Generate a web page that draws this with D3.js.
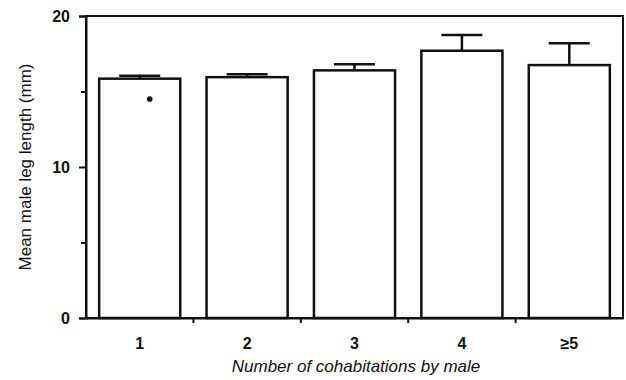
<!DOCTYPE html>
<html>
<head>
<meta charset="utf-8">
<script src="https://cdn.jsdelivr.net/npm/d3@7"></script>
<style>
  body { margin: 0; background: #fff; }
  svg { display: block; font-family: "Liberation Sans", Arial, sans-serif; }
</style>
</head>
<body>
<svg id="chart" width="626" height="380"></svg>
<script>
const categories = ["1", "2", "3", "4", "≥5"];
const meanValues = [15.85, 15.95, 16.4, 17.7, 16.75];
const errorUpper = [16.05, 16.15, 16.8, 18.75, 18.2];
const yTicks = [0, 10, 20];
const yMinorTicks = [5, 15];

const svg = d3.select("#chart");
const margin = { top: 16, right: 3, bottom: 62, left: 86 };
const width = 626, height = 380;

const xScale = d3.scaleBand()
    .domain(categories)
    .range([margin.left, width - margin.right])
    .paddingInner(0.245)
    .paddingOuter(0.1225);

const yScale = d3.scaleLinear().domain([0, 20]).range([height - margin.bottom, margin.top]);

// frame (top and right)
svg.append("rect")
    .attr("x", margin.left)
    .attr("y", margin.top)
    .attr("width", width - margin.right - margin.left)
    .attr("height", height - margin.bottom - margin.top)
    .attr("fill", "none")
    .attr("stroke", "#111")
    .attr("stroke-width", 2);

// y axis
const yAxis = svg.append("g")
    .attr("transform", `translate(${margin.left},0)`)
    .call(d3.axisLeft(yScale).tickValues(yTicks).tickSize(7).tickPadding(9).tickFormat(d3.format("d")));
yAxis.select(".domain").attr("stroke-width", 2).attr("stroke", "#111");
yAxis.selectAll(".tick line").attr("stroke-width", 2).attr("stroke", "#111");
yAxis.selectAll("text").attr("font-size", 16).attr("fill", "#111").attr("font-weight", "bold");

svg.append("g")
    .attr("transform", `translate(${margin.left},0)`)
    .call(d3.axisLeft(yScale).tickValues(yMinorTicks).tickSize(5).tickFormat(""))
    .call(g => g.select(".domain").remove())
    .selectAll(".tick line").attr("stroke-width", 2).attr("stroke", "#111");

// x axis: ticks at band boundaries
const bandStep = xScale.step();
const boundaries = categories.slice(1).map(c => xScale(c) - xScale.paddingInner() * bandStep / 2);
const xAxis = svg.append("g")
    .attr("transform", `translate(0,${height - margin.bottom})`)
    .call(d3.axisBottom(xScale).tickSize(0).tickPadding(20));
xAxis.select(".domain").attr("stroke-width", 2).attr("stroke", "#111");
xAxis.selectAll("text").attr("font-size", 16).attr("fill", "#111").attr("font-weight", "bold");

svg.append("g")
    .selectAll("line")
    .data(boundaries)
    .join("line")
    .attr("x1", d => d).attr("x2", d => d)
    .attr("y1", height - margin.bottom).attr("y2", height - margin.bottom + 5)
    .attr("stroke", "#111")
    .attr("stroke-width", 2);

// error bars
const capWidth = 41;
const errG = svg.append("g").attr("stroke", "#111").attr("stroke-width", 2.5);
categories.forEach((c, i) => {
    const cx = xScale(c) + xScale.bandwidth() / 2;
    errG.append("line")
        .attr("x1", cx).attr("x2", cx)
        .attr("y1", yScale(meanValues[i])).attr("y2", yScale(errorUpper[i]));
    errG.append("line")
        .attr("x1", cx - capWidth / 2).attr("x2", cx + capWidth / 2)
        .attr("y1", yScale(errorUpper[i])).attr("y2", yScale(errorUpper[i]));
});

// bars
svg.append("g")
    .selectAll("rect")
    .data(meanValues)
    .join("rect")
    .attr("x", (d, i) => xScale(categories[i]))
    .attr("y", d => yScale(d))
    .attr("width", xScale.bandwidth())
    .attr("height", d => yScale(0) - yScale(d))
    .attr("fill", "#fff")
    .attr("stroke", "#111")
    .attr("stroke-width", 2.5);

// significance dot in first bar
svg.append("circle")
    .attr("cx", xScale(categories[0]) + xScale.bandwidth() / 2 + 10)
    .attr("cy", yScale(14.5))
    .attr("r", 2.8)
    .attr("fill", "#111");

// axis titles
svg.append("text")
    .attr("transform", `translate(31,${(margin.top + height - margin.bottom) / 2}) rotate(-90)`)
    .attr("text-anchor", "middle")
    .attr("font-size", 17)
    .attr("fill", "#111")
    .text("Mean male leg length (mm)");

svg.append("text")
    .attr("x", 356)
    .attr("y", 372)
    .attr("text-anchor", "middle")
    .attr("font-size", 17)
    .attr("font-style", "italic")
    .attr("fill", "#111")
    .text("Number of cohabitations by male");
</script>
</body>
</html>
